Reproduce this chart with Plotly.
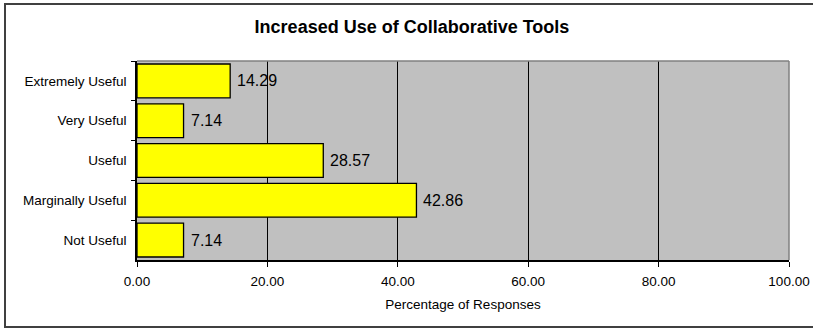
import plotly.graph_objects as go

# Survey responses: usefulness of increased use of collaborative tools
categories = ["Extremely Useful", "Very Useful", "Useful", "Marginally Useful", "Not Useful"]
percentages = [14.29, 7.14, 28.57, 42.86, 7.14]
x_ticks = [0, 20, 40, 60, 80, 100]
x_tick_labels = ["0.00", "20.00", "40.00", "60.00", "80.00", "100.00"]

W, H = 813, 329
L, R, T, B = 137, 24, 61, 69
pw, ph = W - L - R, H - T - B

def px_x(p):
    return (p - L) / pw

def px_y(p):
    return (H - B - p) / ph

FONT = "Arial, Liberation Sans, sans-serif"

fig = go.Figure(
    go.Bar(
        x=percentages,
        y=categories,
        orientation="h",
        marker=dict(color="#FFFF00", line=dict(color="#000000", width=1.3)),
        hoverinfo="skip",
    )
)

# value labels just right of each bar end
for cat, val in zip(categories, percentages):
    fig.add_annotation(
        x=val, y=cat, xref="x", yref="y",
        text=f"{val:.2f}", showarrow=False,
        xanchor="left", yanchor="middle", xshift=5,
        font=dict(family=FONT, size=16, color="#000000"),
    )

fig.update_layout(
    width=W,
    height=H,
    margin=dict(l=L, r=R, t=T, b=B, autoexpand=False),
    paper_bgcolor="#FFFFFF",
    plot_bgcolor="#C0C0C0",
    bargap=0.15,
    showlegend=False,
    font=dict(family=FONT, color="#000000"),
    title=dict(
        text="<b>Increased Use of Collaborative Tools</b>",
        font=dict(family=FONT, size=18, color="#000000"),
        x=px_x(412),
        xref="paper",
        xanchor="center",
        y=1 - 27 / H,
        yref="container",
        yanchor="middle",
    ),
    xaxis=dict(
        range=[0, 100],
        tickvals=x_ticks,
        ticktext=x_tick_labels,
        tickfont=dict(size=13.5),
        ticks="outside",
        ticklen=5,
        tickcolor="#000000",
        ticklabelstandoff=3,
        showgrid=True,
        gridcolor="#000000",
        gridwidth=1,
        showline=True,
        linecolor="#000000",
        linewidth=1.5,
        zeroline=False,
        automargin=False,
        title=dict(text="Percentage of Responses", font=dict(size=13.5), standoff=12),
        fixedrange=True,
    ),
    yaxis=dict(
        autorange="reversed",
        tickfont=dict(size=13.5),
        ticks="outside",
        tickson="boundaries",
        ticklen=4,
        tickcolor="#000000",
        ticklabelstandoff=6,
        showgrid=False,
        showline=True,
        linecolor="#000000",
        linewidth=1.5,
        automargin=False,
        fixedrange=True,
    ),
    shapes=[
        # gray frame on the top and right of the plot area
        dict(type="line", xref="paper", yref="paper", x0=0, x1=1, y0=1, y1=1,
             line=dict(color="#808080", width=1.5)),
        dict(type="line", xref="paper", yref="paper", x0=1, x1=1, y0=0, y1=1,
             line=dict(color="#808080", width=1.5)),
        # outer chart border
        dict(type="rect", xref="paper", yref="paper",
             x0=px_x(5), x1=px_x(815), y0=px_y(327), y1=px_y(4),
             line=dict(color="#404040", width=2), layer="below"),
    ],
)

fig.write_html("out.html")
